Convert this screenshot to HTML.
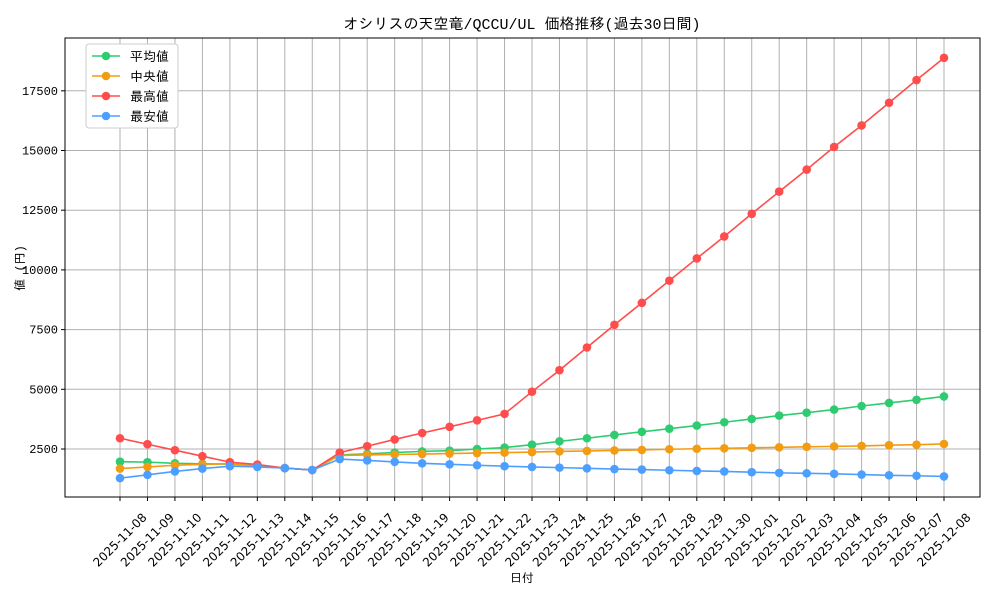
<!DOCTYPE html>
<html><head><meta charset="utf-8"><style>
body{margin:0;background:#fff;font-family:"Liberation Sans","Noto Sans CJK JP",sans-serif}
svg text{font-family:"Liberation Mono","IPAGothic",monospace;fill:#000}
svg text.xt{font-family:"DejaVu Sans",sans-serif}
</style></head><body>
<svg id="c" width="1000" height="600"></svg>
<script>
const categories=["2025-11-08","2025-11-09","2025-11-10","2025-11-11","2025-11-12","2025-11-13","2025-11-14","2025-11-15","2025-11-16","2025-11-17","2025-11-18","2025-11-19","2025-11-20","2025-11-21","2025-11-22","2025-11-23","2025-11-24","2025-11-25","2025-11-26","2025-11-27","2025-11-28","2025-11-29","2025-11-30","2025-12-01","2025-12-02","2025-12-03","2025-12-04","2025-12-05","2025-12-06","2025-12-07","2025-12-08"];
const meanValues=[1970,1950,1900,1880,1870,1800,1700,1620,2250,2300,2350,2400,2430,2500,2560,2680,2820,2950,3090,3220,3350,3480,3620,3760,3900,4020,4150,4300,4430,4560,4700];
const medianValues=[1680,1750,1820,1860,1880,1790,1700,1620,2230,2250,2270,2290,2310,2330,2350,2370,2400,2420,2440,2460,2490,2510,2530,2550,2570,2590,2610,2630,2660,2680,2710];
const maxValues=[2950,2700,2450,2200,1950,1850,1700,1620,2350,2620,2900,3170,3430,3700,3970,4900,5800,6750,7700,8620,9550,10480,11400,12350,13280,14200,15150,16050,17000,17950,18880];
const minValues=[1280,1420,1560,1680,1780,1750,1700,1620,2080,2020,1960,1900,1860,1820,1780,1750,1720,1690,1660,1640,1610,1580,1560,1530,1500,1480,1460,1430,1400,1380,1350];
const yTicks=[2500,5000,7500,10000,12500,15000,17500];
const seriesNames=["平均値","中央値","最高値","最安値"];
const seriesColors=["#2ecc71","#f39c12","#ff4d4d","#4d9fff"];
const NS="http://www.w3.org/2000/svg",svg=document.getElementById('c');
const L=65,R=980,T=38,B=497;
const x=i=>120+i*(944-120)/(categories.length-1);
const y=v=>508.7-v*(59.7/2500);
function mk(t,a,p){const e=document.createElementNS(NS,t);for(const k in a)e.setAttribute(k,a[k]);(p||svg).appendChild(e);return e;}
categories.forEach((c,i)=>{const g=mk('line',{x1:x(i),x2:x(i),y1:T,y2:B,stroke:'#b0b0b0','stroke-width':1});

mk('line',{x1:x(i),x2:x(i),y1:B,y2:B+4,stroke:'#000'});
const t=mk('text',{class:'xt',x:x(i),y:544,'font-size':12,'text-anchor':'middle',transform:`rotate(-45 ${x(i)} 540)`});t.textContent=c;
});
yTicks.forEach(v=>{const g=mk('line',{x1:L,x2:R,y1:y(v),y2:y(v),stroke:'#b0b0b0','stroke-width':1});

mk('line',{x1:L-4,x2:L,y1:y(v),y2:y(v),stroke:'#000'});
const t=mk('text',{x:L-7,y:y(v)+4,'font-size':12,'text-anchor':'end'});t.textContent=v;
});
const fr=mk('rect',{x:L,y:T,width:R-L,height:B-T,fill:'none',stroke:'#000'});

const all=[meanValues,medianValues,maxValues,minValues];
all.forEach((vals,s)=>{const g=mk('g',{});
mk('polyline',{points:vals.map((v,i)=>x(i)+','+y(v)).join(' '),fill:'none',stroke:seriesColors[s],'stroke-width':1.6},g);
vals.forEach((v,i)=>{const c=mk('circle',{cx:x(i),cy:y(v),r:4.3,fill:seriesColors[s]},g);
});});
const lg=mk('g',{});
mk('rect',{x:86,y:44,width:92,height:84,rx:3,fill:'#fff',stroke:'#ccc'},lg);
seriesNames.forEach((n,s)=>{const yy=56+s*20;
mk('line',{x1:92,x2:120,y1:yy,y2:yy,stroke:seriesColors[s],'stroke-width':1.6},lg);
mk('circle',{cx:106,cy:yy,r:4.3,fill:seriesColors[s]},lg);
const t=mk('text',{x:130,y:yy+5,'font-size':13},lg);t.textContent=n;
});
const ti=mk('text',{x:522,y:29,'font-size':15,'text-anchor':'middle'});ti.textContent='オシリスの天空竜/QCCU/UL 価格推移(過去30日間)';

const xt=mk('text',{x:522,y:582,'font-size':12,'text-anchor':'middle'});xt.textContent='日付';

const yt=mk('text',{x:24,y:268,'font-size':12,'text-anchor':'middle',transform:'rotate(-90 24 268)'});yt.textContent='値 (円)';

</script></body></html>
